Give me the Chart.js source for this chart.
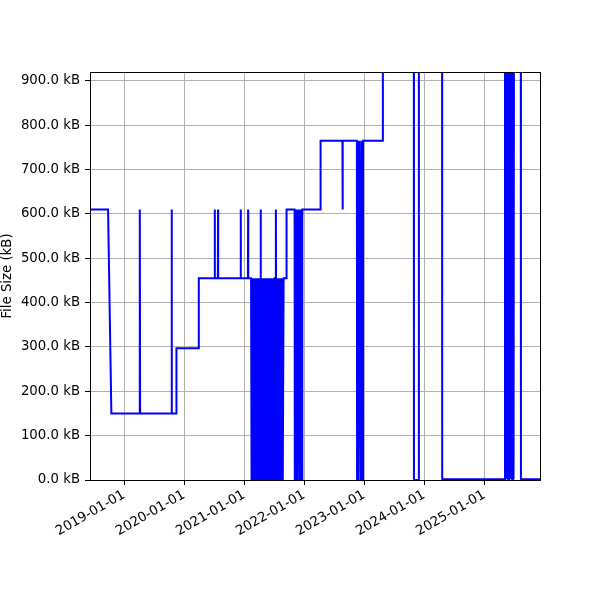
<!DOCTYPE html>
<html>
<head>
<meta charset="utf-8">
<script src="https://cdn.jsdelivr.net/npm/chart.js@4/dist/chart.umd.min.js"></script>
<style>
  html, body { margin: 0; padding: 0; background: #fff; }
  #wrap { width: 600px; height: 600px; }
</style>
</head>
<body>
<div id="wrap"><canvas id="sizeChart" width="600" height="600"></canvas></div>
<script>
// --- DATA ---
// anything above the axis top (920 kB) is cut off in the picture
const OFF = 1200;

const dates = [
    '2018-06-08', '2018-09-26', '2018-10-16',
    '2019-04-05', '2019-04-06', '2019-04-07', '2019-04-08', '2019-04-09',
    '2019-10-17', '2019-10-18', '2019-10-19', '2019-11-15', '2019-11-16',
    '2020-03-30', '2020-03-31',
    '2020-07-05', '2020-07-06', '2020-07-07',
    '2020-07-25', '2020-07-26', '2020-07-27',
    '2020-12-10', '2020-12-11', '2020-12-12',
    '2021-01-24', '2021-01-25', '2021-01-26', '2021-02-12',
    '2021-02-13', '2021-02-17', '2021-02-21', '2021-02-25', '2021-03-01', '2021-03-05',
    '2021-03-09', '2021-03-13', '2021-03-17', '2021-03-21', '2021-03-25', '2021-03-29',
    '2021-04-02', '2021-04-06', '2021-04-10', '2021-04-11', '2021-04-12', '2021-04-13',
    '2021-04-14', '2021-04-18', '2021-04-22', '2021-04-26', '2021-04-30', '2021-05-04',
    '2021-05-08', '2021-05-12', '2021-05-16', '2021-05-20', '2021-05-24', '2021-05-28',
    '2021-06-01', '2021-06-05', '2021-06-09', '2021-06-13', '2021-06-17', '2021-06-21',
    '2021-06-25', '2021-06-29', '2021-07-03', '2021-07-06',
    '2021-07-12', '2021-07-13', '2021-07-14',
    '2021-07-15', '2021-07-19', '2021-07-23', '2021-07-27', '2021-07-31', '2021-08-04',
    '2021-08-08', '2021-08-12', '2021-08-16', '2021-08-20', '2021-08-24', '2021-08-29',
    '2021-09-15', '2021-09-16',
    '2021-11-04', '2021-11-05', '2021-11-09', '2021-11-13', '2021-11-17', '2021-11-21',
    '2021-11-26', '2021-12-04', '2021-12-08', '2021-12-12', '2021-12-16', '2021-12-20',
    '2021-12-21',
    '2022-04-10', '2022-04-11',
    '2022-08-22', '2022-08-23', '2022-08-24',
    '2022-11-18', '2022-11-19', '2022-11-23', '2022-11-27', '2022-12-02', '2022-12-11',
    '2022-12-15', '2022-12-20', '2022-12-25',
    '2023-04-24', '2023-04-25',
    '2023-10-30', '2023-10-31', '2023-11-29', '2023-11-30',
    '2024-04-19', '2024-04-20',
    '2025-05-06', '2025-05-07', '2025-05-11', '2025-05-15', '2025-05-19', '2025-05-23',
    '2025-05-27', '2025-05-31', '2025-06-04', '2025-06-08', '2025-06-12', '2025-06-16',
    '2025-06-20', '2025-06-24', '2025-06-28', '2025-07-01',
    '2025-08-11', '2025-08-12', '2025-12-06'
];

const sizesKB = [
    610, 610, 150,
    150, 610, 150, 610, 150,
    150, 610, 150, 150, 297,
    297, 455,
    455, 610, 455,
    455, 610, 455,
    455, 610, 455,
    455, 610, 455, 455,
    0, 455, 0, 455, 0, 455,
    0, 455, 0, 455, 0, 455,
    0, 455, 0, 455, 610, 455,
    0, 455, 0, 455, 0, 455,
    0, 455, 0, 455, 0, 455,
    0, 455, 0, 455, 0, 455,
    0, 455, 0, 455,
    455, 610, 455,
    0, 455, 0, 455, 0, 455,
    0, 455, 0, 455, 0, 455,
    455, 610,
    610, 0, 610, 0, 610, 0,
    610, 0, 610, 0, 610, 0,
    610,
    610, 765,
    765, 610, 765,
    765, 0, 765, 0, 765, 0,
    765, 0, 765,
    765, OFF,
    OFF, 0, 0, OFF,
    OFF, 1.5,
    1.5, OFF, 1.5, OFF, 1.5, OFF,
    1.5, OFF, 1.5, OFF, 1.5, OFF,
    1.5, OFF, 1.5, OFF,
    OFF, 1.5, 1.5
];

const tickYears = [2019, 2020, 2021, 2022, 2023, 2024, 2025];
const yTicksKB = [0, 100, 200, 300, 400, 500, 600, 700, 800, 900];

// --- CHART ---
const FONT = { family: "'DejaVu Sans', sans-serif", size: 13.3 };
const points = dates.map((d, i) => ({ x: Date.parse(d), y: sizesKB[i] }));

// top and right spines like a boxed axes
const frame = {
    id: 'frame',
    afterDatasetsDraw(chart) {
        const a = chart.chartArea, ctx = chart.ctx;
        ctx.save();
        ctx.strokeStyle = '#000';
        ctx.lineWidth = 1;
        ctx.strokeRect(Math.round(a.left) + 0.5, Math.round(a.top) + 0.5,
            Math.round(a.right - a.left), Math.round(a.bottom - a.top));
        ctx.restore();
    }
};

new Chart(document.getElementById('sizeChart'), {
    type: 'line',
    data: {
        datasets: [{
            data: points,
            borderColor: '#0000ff',
            borderWidth: 2,
            pointRadius: 0,
            tension: 0,
            fill: false
        }]
    },
    options: {
        responsive: false,
        animation: false,
        layout: { padding: { top: 72, right: 60, left: 0, bottom: 0 } },
        plugins: { legend: { display: false }, tooltip: { enabled: false } },
        scales: {
            x: {
                type: 'linear',
                min: points[0].x,
                max: points[points.length - 1].x,
                afterBuildTicks: s => { s.ticks = tickYears.map(y => ({ value: Date.UTC(y, 0, 1) })); },
                afterFit: s => { s.height = 120; },
                grid: { color: '#b0b0b0', lineWidth: 1, tickColor: '#000', tickLength: 5 },
                border: { color: '#000', width: 1 },
                ticks: {
                    autoSkip: false,
                    minRotation: 30,
                    maxRotation: 30,
                    padding: 2,
                    color: '#000',
                    font: FONT,
                    callback: v => new Date(v).toISOString().slice(0, 10)
                }
            },
            y: {
                min: 0,
                max: 920,
                afterBuildTicks: s => { s.ticks = yTicksKB.map(v => ({ value: v })); },
                afterFit: s => { s.width = 90; },
                grid: { color: '#b0b0b0', lineWidth: 1, tickColor: '#000', tickLength: 5 },
                border: { color: '#000', width: 1 },
                title: { display: true, text: 'File Size (kB)', color: '#000', font: FONT, padding: 0 },
                ticks: {
                    padding: 5,
                    color: '#000',
                    font: FONT,
                    callback: v => v.toFixed(1) + ' kB'
                }
            }
        }
    },
    plugins: [frame]
});
</script>
</body>
</html>
